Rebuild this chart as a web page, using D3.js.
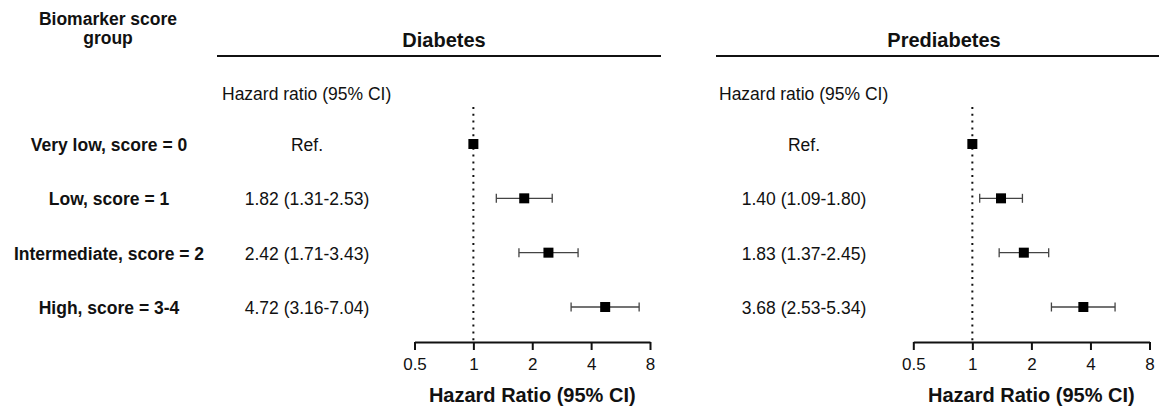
<!DOCTYPE html>
<html>
<head>
<meta charset="utf-8">
<script src="https://cdn.jsdelivr.net/npm/d3@7"></script>
<style>
  body { margin: 0; background: #fff; }
  svg text { font-family: "Liberation Sans", Arial, sans-serif; fill: #111; }
</style>
</head>
<body>
<svg id="forest"></svg>
<script>
// Chart values
const groups = ["Very low, score = 0", "Low, score = 1", "Intermediate, score = 2", "High, score = 3-4"];
const diabetesHR = [1, 1.82, 2.42, 4.72];
const diabetesLow = [null, 1.31, 1.71, 3.16];
const diabetesHigh = [null, 2.53, 3.43, 7.04];
const prediabetesHR = [1, 1.40, 1.83, 3.68];
const prediabetesLow = [null, 1.09, 1.37, 2.53];
const prediabetesHigh = [null, 1.80, 2.45, 5.34];
const tickValues = [0.5, 1, 2, 4, 8];

const width = 1165, height = 416;

const svg = d3.select("#forest")
    .attr("width", width)
    .attr("height", height);

// Row positions shared by both panels
const y = d3.scalePoint()
    .domain(groups)
    .range([144, 307]);

// Left column header
const head = svg.append("text")
    .attr("x", 108)
    .attr("text-anchor", "middle")
    .style("font-size", "17.5px")
    .style("font-weight", "bold");
head.append("tspan").attr("x", 108).attr("y", 25).text("Biomarker score");
head.append("tspan").attr("x", 108).attr("y", 44).text("group");

// Row labels
svg.selectAll(".rowLabel").data(groups)
    .enter().append("text")
    .attr("class", "rowLabel")
    .attr("x", 109)
    .attr("y", d => y(d) + 7)
    .attr("text-anchor", "middle")
    .style("font-size", "17.5px")
    .style("font-weight", "bold")
    .text(d => d);

function drawPanel(opts) {
    const g = svg.append("g");
    const rows = groups.map((grp, i) => ({
        grp: grp, hr: opts.hr[i], lo: opts.lo[i], hi: opts.hi[i]
    }));

    const x = d3.scaleLog()
        .base(2)
        .domain([0.5, 8])
        .range(opts.range);

    // title and rule
    g.append("text")
        .attr("x", opts.titleX)
        .attr("y", 47)
        .attr("text-anchor", "middle")
        .style("font-size", "20px")
        .style("font-weight", "bold")
        .text(opts.title);

    g.append("line")
        .attr("x1", opts.rule[0]).attr("x2", opts.rule[1])
        .attr("y1", 56).attr("y2", 56)
        .attr("stroke", "#111")
        .attr("stroke-width", 2);

    g.append("text")
        .attr("x", opts.textX - 85)
        .attr("y", 100)
        .style("font-size", "17.5px")
        .text("Hazard ratio (95% CI)");

    // HR text column
    g.selectAll(".hrText").data(rows)
        .enter().append("text")
        .attr("class", "hrText")
        .attr("x", opts.textX)
        .attr("y", d => y(d.grp) + 7)
        .attr("text-anchor", "middle")
        .style("font-size", "17.5px")
        .text(d => d.lo == null ? "Ref."
            : `${d.hr.toFixed(2)} (${d.lo.toFixed(2)}-${d.hi.toFixed(2)})`);

    // reference line at HR = 1
    g.append("line")
        .attr("x1", x(1)).attr("x2", x(1))
        .attr("y1", 107).attr("y2", 342)
        .attr("stroke", "#111")
        .attr("stroke-width", 2)
        .attr("stroke-dasharray", "2,4.8");

    // axis
    const axis = g.append("g")
        .attr("transform", "translate(0,342)")
        .call(d3.axisBottom(x)
            .tickValues(tickValues)
            .tickFormat(d => d)
            .tickSize(8)
            .tickSizeOuter(0)
            .tickPadding(8));
    axis.select(".domain").attr("stroke", "#111").attr("stroke-width", 2);
    axis.selectAll(".tick line").attr("stroke", "#111").attr("stroke-width", 2);
    axis.selectAll(".tick text")
        .style("font-size", "17px")
        .style("font-family", "'Liberation Sans', Arial, sans-serif")
        .attr("fill", "#111");

    g.append("text")
        .attr("x", x(2))
        .attr("y", 402)
        .attr("text-anchor", "middle")
        .style("font-size", "20px")
        .style("font-weight", "bold")
        .text("Hazard Ratio (95% CI)");

    // confidence intervals
    const ci = rows.filter(d => d.lo != null);
    g.selectAll(".ciLine").data(ci)
        .enter().append("line")
        .attr("x1", d => x(d.lo)).attr("x2", d => x(d.hi))
        .attr("y1", d => y(d.grp)).attr("y2", d => y(d.grp))
        .attr("stroke", "#444").attr("stroke-width", 1.3);
    ["lo", "hi"].forEach(k => {
        g.selectAll(".cap" + k).data(ci)
            .enter().append("line")
            .attr("x1", d => x(d[k])).attr("x2", d => x(d[k]))
            .attr("y1", d => y(d.grp) - 4.5).attr("y2", d => y(d.grp) + 4.5)
            .attr("stroke", "#444").attr("stroke-width", 1.3);
    });

    // point estimates
    g.selectAll(".pt").data(rows)
        .enter().append("rect")
        .attr("x", d => x(d.hr) - 5)
        .attr("y", d => y(d.grp) - 5)
        .attr("width", 10)
        .attr("height", 10)
        .attr("fill", "#000");
}

drawPanel({
    title: "Diabetes", titleX: 444, rule: [217, 661], textX: 307,
    range: [414.5, 650], hr: diabetesHR, lo: diabetesLow, hi: diabetesHigh
});
drawPanel({
    title: "Prediabetes", titleX: 944, rule: [716, 1159], textX: 804,
    range: [913.3, 1149.5], hr: prediabetesHR, lo: prediabetesLow, hi: prediabetesHigh
});
</script>
</body>
</html>
